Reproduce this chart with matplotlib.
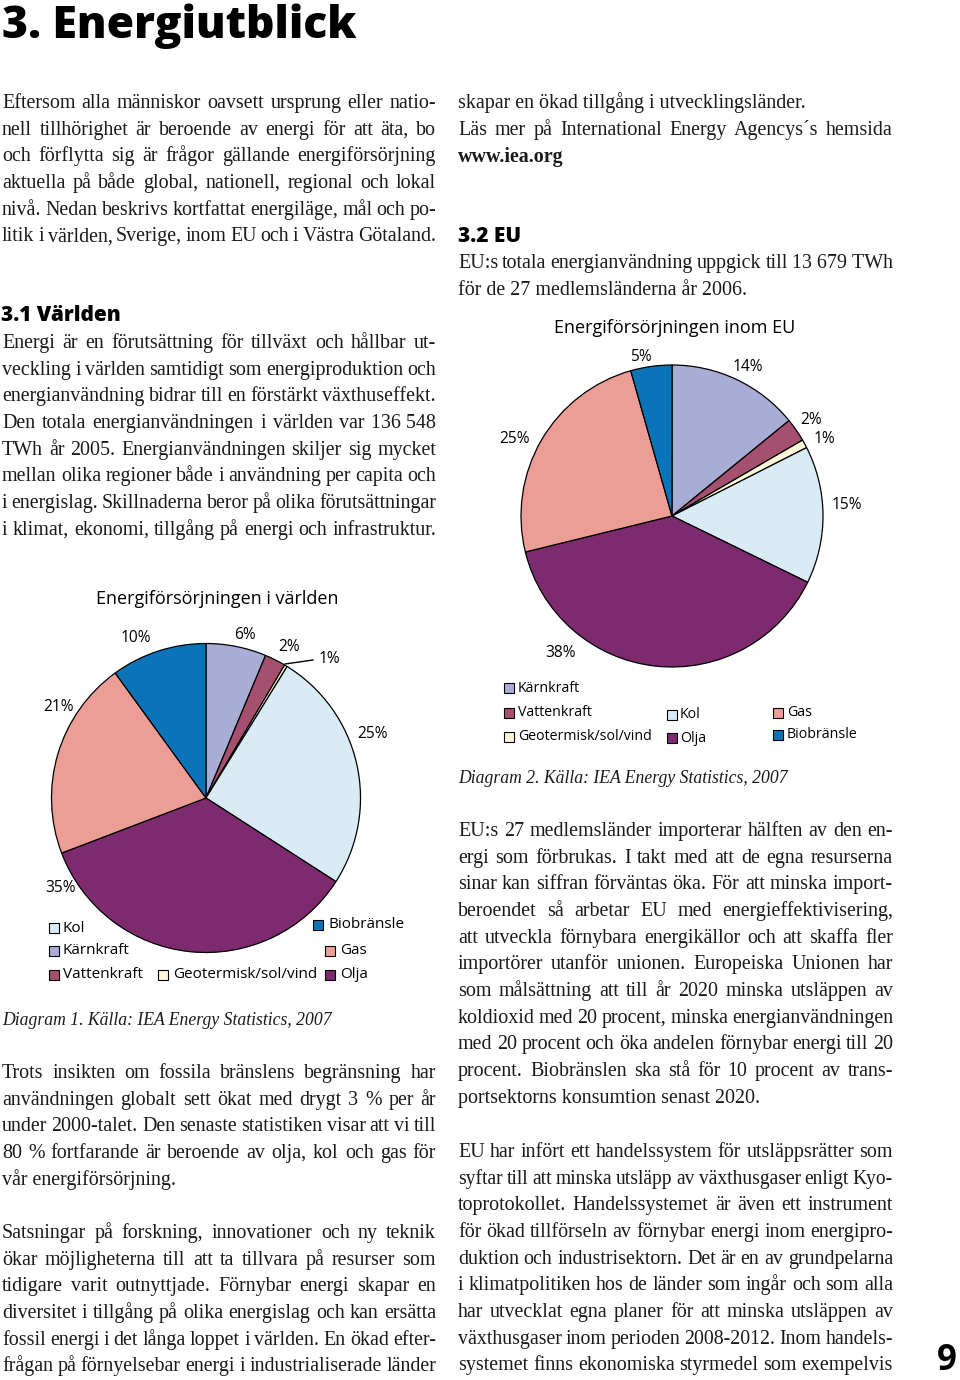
import numpy as np
import matplotlib.pyplot as plt
from matplotlib.patches import Rectangle

W, H = 960, 1380
SERIF = "Liberation Serif"
SANS = "Open Sans"

# energy sources, in the order they run clockwise from 12 o'clock
sources = ["Kärnkraft", "Vattenkraft", "Geotermisk/sol/vind", "Kol", "Olja", "Gas", "Biobränsle"]
colors = ["#a9add6", "#a5506f", "#fcf6d8", "#d9ecf5", "#7d2a6e", "#ec9e96", "#0b74b8"]

# shares as drawn in the wedges, and the printed labels
world_share = [6.3, 2.2, 0.3, 25.3, 35.1, 20.8, 10.0]
world_labels = ["6%", "2%", "1%", "25%", "35%", "21%", "10%"]
eu_share = [14.1, 2.5, 0.9, 14.7, 38.9, 24.4, 4.4]
eu_labels = ["14%", "2%", "1%", "15%", "38%", "25%", "5%"]

# body text
intro = [
    "Eftersom alla människor oavsett ursprung eller natio-",
    "nell tillhörighet är beroende av energi för att äta, bo",
    "och förflytta sig är frågor gällande energiförsörjning",
    "aktuella på både global, nationell, regional och lokal",
    "nivå. Nedan beskrivs kortfattat energiläge, mål och po-",
    "litik i världen, Sverige, inom EU och i Västra Götaland.",
]
varlden = [
    "Energi är en förutsättning för tillväxt och hållbar ut-",
    "veckling i världen samtidigt som energiproduktion och",
    "energianvändning bidrar till en förstärkt växthuseffekt.",
    "Den totala energianvändningen i världen var 136\u00a0548",
    "TWh år 2005. Energianvändningen skiljer sig mycket",
    "mellan olika regioner både i användning per capita och",
    "i energislag. Skillnaderna beror på olika förutsättningar",
    "i klimat, ekonomi, tillgång på energi och infrastruktur.",
]
trots = [
    "Trots insikten om fossila bränslens begränsning har",
    "användningen globalt sett ökat med drygt 3 % per år",
    "under 2000-talet. Den senaste statistiken visar att vi till",
    "80 % fortfarande är beroende av olja, kol och gas för",
    "vår energiförsörjning.",
]
satsningar = [
    "Satsningar på forskning, innovationer och ny teknik",
    "ökar möjligheterna till att ta tillvara på resurser som",
    "tidigare varit outnyttjade. Förnybar energi skapar en",
    "diversitet i tillgång på olika energislag och kan ersätta",
    "fossil energi i det långa loppet i världen. En ökad efter-",
    "frågan på förnyelsebar energi i industrialiserade länder",
]
skapar = ["skapar en ökad tillgång i utvecklingsländer."]
las_mer = ["Läs mer på International Energy Agencys´s hemsida"]
eu_intro = [
    "EU:s totala energianvändning uppgick till 13\u00a0679\u00a0TWh",
    "för de 27 medlemsländerna år 2006.",
]
eu_import = [
    "EU:s 27 medlemsländer importerar hälften av den en-",
    "ergi som förbrukas. I takt med att de egna resurserna",
    "sinar kan siffran förväntas öka. För att minska import-",
    "beroendet så arbetar EU med energieffektivisering,",
    "att utveckla förnybara energikällor och att skaffa fler",
    "importörer utanför unionen. Europeiska Unionen har",
    "som målsättning att till år 2020 minska utsläppen av",
    "koldioxid med 20 procent, minska energianvändningen",
    "med 20 procent och öka andelen förnybar energi till 20",
    "procent. Biobränslen ska stå för 10 procent av trans-",
    "portsektorns konsumtion senast 2020.",
]
eu_handel = [
    "EU har infört ett handelssystem för utsläppsrätter som",
    "syftar till att minska utsläpp av växthusgaser enligt Kyo-",
    "toprotokollet. Handelssystemet är även ett instrument",
    "för ökad tillförseln av förnybar energi inom energipro-",
    "duktion och industrisektorn. Det är en av grundpelarna",
    "i klimatpolitiken hos de länder som ingår och som alla",
    "har utvecklat egna planer för att minska utsläppen av",
    "växthusgaser inom perioden 2008-2012. Inom handels-",
    "systemet finns ekonomiska styrmedel som exempelvis",
]

fig = plt.figure(figsize=(W / 100, H / 100), dpi=100)
ax = fig.add_axes([0, 0, 1, 1])
ax.set_xlim(0, W)
ax.set_ylim(H, 0)
ax.axis("off")
R = fig.canvas.get_renderer()


def width(s, **kw):
    t = ax.text(0, 0, s, **kw)
    w = t.get_window_extent(R).width
    t.remove()
    return w


LH = 26.67
L0, L1 = 2, 436
R0, R1 = 458, 893
BODY = 14.4
INK = "#1a1a1a"

# (lines, x0, x1, first baseline, justify last line)
paragraphs = [
    (intro, L0, L1, 108, True),
    (varlden, L0, L1, 348, True),
    (trots, L0, L1, 1078, False),
    (satsningar, L0, L1, 1238, True),
    (skapar, R0, R1, 108, False),
    (las_mer, R0, R1, 135, True),
    (eu_intro, R0, R1, 268, False),
    (eu_import, R0, R1, 836, False),
    (eu_handel, R0, R1, 1157, True),
]


def set_lines(lines, x0, x1, y0, justify_last):
    for i, line in enumerate(lines):
        y = y0 + i * LH
        words = line.split(" ")
        if (i == len(lines) - 1 and not justify_last) or len(words) == 1:
            ax.text(x0, y, line, fontsize=BODY, family=SERIF, va="baseline", color=INK)
            continue
        # shrink a line only when it will not fit with a minimal word gap
        ws = [width(w, fontsize=BODY, family=SERIF) for w in words]
        need = sum(ws) + (len(words) - 1) * 0.2 * BODY * 100 / 72
        size = BODY * min(1.0, (x1 - x0) / need)
        ws = [v * size / BODY for v in ws]
        gap = (x1 - x0 - sum(ws)) / (len(words) - 1)
        x = x0
        for w, wd in zip(words, ws):
            ax.text(x, y, w, fontsize=size, family=SERIF, va="baseline", color=INK)
            x += wd + gap


for lines, x0, x1, y0, jl in paragraphs:
    set_lines(lines, x0, x1, y0, jl)

ax.text(R0, 162, "www.iea.org", fontsize=BODY, fontweight="bold", family=SERIF,
        va="baseline", color=INK)

# headings
ts = 35
ts *= 356 / width("3. Energiutblick", fontsize=ts, family=SANS, fontweight="heavy")
ax.text(2, 38, "3. Energiutblick", fontsize=ts, family=SANS, fontweight="heavy", va="baseline")
ax.text(1, 321, "3.1 Världen", fontsize=15, family=SANS, fontweight="heavy", va="baseline")
ax.text(458, 242, "3.2 EU", fontsize=15, family=SANS, fontweight="heavy", va="baseline")
ax.text(957, 1370, "9", fontsize=25, family=SANS, fontweight="bold", va="baseline", ha="right")

# captions
ax.text(2, 1025, "Diagram 1. Källa: IEA Energy Statistics, 2007", fontsize=12.7,
        family=SERIF, style="italic", va="baseline", color=INK)
ax.text(R0, 783, "Diagram 2. Källa: IEA Energy Statistics, 2007", fontsize=12.7,
        family=SERIF, style="italic", va="baseline", color=INK)


def draw_pie(share, cx, cy, r):
    pad = 1.04
    pa = fig.add_axes([(cx - r * pad) / W, 1 - (cy + r * pad) / H,
                       2 * r * pad / W, 2 * r * pad / H])
    pa.pie(share, colors=colors, startangle=90, counterclock=False,
           wedgeprops=dict(edgecolor="black", linewidth=0.9))
    pa.set_xlim(-pad, pad)
    pa.set_ylim(-pad, pad)
    pa.axis("off")


def draw_legend(items, size):
    for name, bx, tx, y in items:
        c = colors[sources.index(name)]
        ax.add_patch(Rectangle((bx, y - 5), 10, 10, facecolor=c, edgecolor="black", lw=0.8))
        ax.text(tx, y, name, fontsize=size, family=SANS, va="center")


# world pie
draw_pie(world_share, 206, 798, 154.5)
ax.text(217, 599, "Energiförsörjningen i världen", fontsize=13, family=SANS,
        ha="center", va="center")
world_label_xy = [(245, 635), (289, 647), (329, 659), (373, 734), (60, 888), (58, 707), (136, 638)]
for s, (x, y) in zip(world_labels, world_label_xy):
    ax.text(x, y, s, fontsize=11.2, family=SANS, ha="center", va="center")
ax.plot([285, 313], [664, 660], color="black", lw=1.0)
draw_legend([
    ("Kol", 49, 63, 928), ("Kärnkraft", 49, 63, 951), ("Vattenkraft", 49, 63, 975),
    ("Geotermisk/sol/vind", 158, 173, 975), ("Biobränsle", 313, 328, 925),
    ("Gas", 325, 340, 951), ("Olja", 325, 340, 975),
], 11)

# EU pie
draw_pie(eu_share, 672, 516, 151)
ax.text(675, 328, "Energiförsörjningen inom EU", fontsize=13, family=SANS,
        ha="center", va="center")
eu_label_xy = [(748, 367), (811, 420), (824, 439), (847, 505), (561, 653), (514, 439), (641, 357)]
for s, (x, y) in zip(eu_labels, eu_label_xy):
    ax.text(x, y, s, fontsize=11.2, family=SANS, ha="center", va="center")
draw_legend([
    ("Kärnkraft", 504, 518, 688), ("Vattenkraft", 504, 518, 713),
    ("Geotermisk/sol/vind", 504, 518, 737), ("Kol", 667, 680, 715),
    ("Olja", 667, 680, 738), ("Gas", 773, 787, 713), ("Biobränsle", 773, 787, 735),
], 10.2)

fig.savefig("out.png", dpi=100)
